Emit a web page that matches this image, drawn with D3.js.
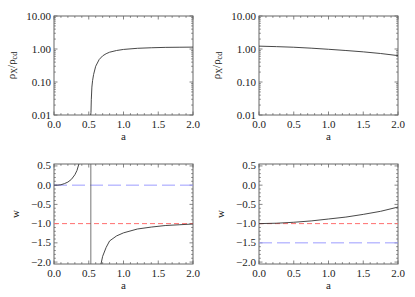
<!DOCTYPE html>
<html>
<head>
<meta charset="utf-8">
<script src="https://cdn.jsdelivr.net/npm/d3@7"></script>
<style>
  body { margin: 0; background: #fff; }
</style>
</head>
<body>
<div id="chart"></div>
<script>
// top left: rho_X / rho_cd vs a (diverges near a = 0.53)
var rhoA1 = [0.528, 0.532, 0.537, 0.545, 0.555, 0.57, 0.6, 0.65, 0.7, 0.75, 0.8, 0.9, 1.0, 1.2, 1.4, 1.6, 1.8, 2.0];
var rhoV1 = [0.005, 0.012, 0.03, 0.07, 0.11, 0.17, 0.3, 0.48, 0.62, 0.72, 0.8, 0.9, 0.97, 1.05, 1.09, 1.12, 1.13, 1.14];
// top right
var rhoA2 = [0, 0.25, 0.5, 0.75, 1.0, 1.25, 1.5, 1.75, 2.0];
var rhoV2 = [1.22, 1.18, 1.13, 1.06, 0.98, 0.9, 0.82, 0.73, 0.63];
// bottom left: w(a), two branches and the jump at the pole
var wA1left = [0, 0.05, 0.1, 0.15, 0.2, 0.25, 0.3, 0.33, 0.36];
var wV1left = [0, 0.0, 0.01, 0.04, 0.08, 0.15, 0.27, 0.38, 0.56];
var wA1right = [0.675, 0.7, 0.75, 0.8, 0.9, 1.0, 1.2, 1.4, 1.6, 1.8, 2.0];
var wV1right = [-2.06, -1.85, -1.62, -1.45, -1.32, -1.24, -1.14, -1.09, -1.05, -1.03, -1.01];
var pole1 = 0.53;
// bottom right
var wA2 = [0, 0.25, 0.5, 0.75, 1.0, 1.25, 1.5, 1.75, 2.0];
var wV2 = [-1.0, -0.99, -0.965, -0.93, -0.88, -0.83, -0.76, -0.68, -0.57];
// reference lines (red = -1, blue = other)
var refRed = [-1, -1];
var refBlue = [0, -1.5];

var xTicks = [0, 0.5, 1.0, 1.5, 2.0];
var xTickLabels = ['0.0', '0.5', '1.0', '1.5', '2.0'];
var logTicks = [0.01, 0.1, 1, 10];
var logTickLabels = ['0.01', '0.10', '1.00', '10.00'];
var wTicks = [-2, -1.5, -1, -0.5, 0, 0.5];
var wTickLabels = ['\u22122.0', '\u22121.5', '\u22121.0', '\u22120.5', '0.0', '0.5'];

var W = 415, H = 297;
var FONT = "'Liberation Serif'";
var svg = d3.select('#chart').append('svg')
    .attr('width', W).attr('height', H);

var panels = [
  {x0: 54, y0: 16, w: 139, h: 99, log: true,  ylab: 'rho', ylx: 15},
  {x0: 259, y0: 16, w: 139, h: 99, log: true, ylab: 'rho', ylx: 220},
  {x0: 54, y0: 164, w: 139, h: 100, log: false, ylab: 'w', ylx: 19},
  {x0: 259, y0: 164, w: 139, h: 100, log: false, ylab: 'w', ylx: 224}
];

var frameCol = '#666';
var lineCol = '#333';
var textCol = '#222';

function txt(sel) {
  return sel.style('font-family', FONT).attr('font-size', 11).attr('fill', textCol);
}

function drawPanel(p) {
  var g = svg.append('g').attr('transform', 'translate(' + p.x0 + ',' + p.y0 + ')');
  var x = d3.scaleLinear().domain([0, 2]).range([0, p.w]);
  var y;
  if (p.log) y = d3.scaleLog().domain([0.01, 10]).range([p.h, 0]).clamp(true);
  else y = d3.scaleLinear().domain([-2.05, 0.55]).range([p.h, 0]);
  p.x = x; p.y = y; p.g = g;

  var major = 3.5, minor = 1.8;
  var tk = g.append('g').attr('stroke', frameCol).attr('stroke-width', 0.8);
  // x ticks top & bottom
  d3.range(0, 2.0001, 0.1).forEach(function(v, i) {
    var len = (i % 5 === 0) ? major : minor;
    var px = x(v);
    tk.append('line').attr('x1', px).attr('x2', px).attr('y1', p.h).attr('y2', p.h - len);
    tk.append('line').attr('x1', px).attr('x2', px).attr('y1', 0).attr('y2', len);
  });
  // y ticks left & right
  var yt = [];
  if (p.log) {
    [0.01, 0.1, 1].forEach(function(d) {
      for (var k = 1; k < 10; k++) yt.push({v: d * k, m: k === 1});
    });
    yt.push({v: 10, m: true});
  } else {
    d3.range(-20, 6).forEach(function(k) {
      yt.push({v: k / 10, m: k % 5 === 0});
    });
  }
  yt.forEach(function(t) {
    var py = y(t.v);
    var len = t.m ? major : minor;
    tk.append('line').attr('y1', py).attr('y2', py).attr('x1', 0).attr('x2', len);
    tk.append('line').attr('y1', py).attr('y2', py).attr('x1', p.w).attr('x2', p.w - len);
  });

  g.append('rect').attr('width', p.w).attr('height', p.h)
    .attr('fill', 'none').attr('stroke', frameCol).attr('stroke-width', 1);

  // tick labels
  txt(g.selectAll('.xl').data(xTicks).enter().append('text'))
    .attr('x', function(d) { return x(d); })
    .attr('y', p.h + 13)
    .attr('text-anchor', 'middle')
    .text(function(d, i) { return xTickLabels[i]; });
  var ytv = p.log ? logTicks : wTicks;
  var ytl = p.log ? logTickLabels : wTickLabels;
  txt(g.selectAll('.yl').data(ytv).enter().append('text'))
    .attr('x', -3)
    .attr('y', function(d) { return y(d) + 3.5; })
    .attr('text-anchor', 'end')
    .text(function(d, i) { return ytl[i]; });

  txt(g.append('text')).attr('x', p.w / 2).attr('y', p.h + 25)
    .attr('text-anchor', 'middle').text('a');

  var lab = txt(svg.append('text'))
    .attr('transform', 'translate(' + p.ylx + ',' + (p.y0 + p.h / 2) + ') rotate(-90)')
    .attr('text-anchor', 'middle');
  if (p.ylab === 'rho') {
    lab.append('tspan').text('\u03c1');
    lab.append('tspan').attr('font-size', 8).attr('dy', 2).text('X');
    lab.append('tspan').attr('dy', -2).text('/\u03c1');
    lab.append('tspan').attr('font-size', 8).attr('dy', 2).text('cd');
  } else {
    lab.text('w');
  }

  var clip = 'clip' + p.x0 + '_' + p.y0;
  g.append('clipPath').attr('id', clip).append('rect').attr('width', p.w).attr('height', p.h);
  p.plot = g.append('g').attr('clip-path', 'url(#' + clip + ')');
}

panels.forEach(drawPanel);

var line = function(p) {
  return d3.line().x(function(d) { return p.x(d[0]); }).y(function(d) { return p.y(d[1]); });
};

function curve(p, xs, ys, col) {
  p.plot.append('path')
    .attr('d', line(p)(d3.zip(xs, ys)))
    .attr('fill', 'none').attr('stroke', col || lineCol).attr('stroke-width', 0.9);
}

function hline(p, v, col, dash) {
  p.plot.append('line')
    .attr('x1', p.x(0)).attr('x2', p.x(2))
    .attr('y1', p.y(v)).attr('y2', p.y(v))
    .attr('stroke', col).attr('stroke-width', 1).attr('stroke-dasharray', dash);
}

// reference lines first
hline(panels[2], refBlue[0], '#9c9cff', '13,5');
hline(panels[2], refRed[0], '#ff6f6f', '5,3');
hline(panels[3], refRed[1], '#ff6f6f', '5,3');
hline(panels[3], refBlue[1], '#9c9cff', '13,5');

curve(panels[0], rhoA1, rhoV1);
curve(panels[1], rhoA2, rhoV2);
curve(panels[2], wA1left, wV1left);
curve(panels[2], wA1right, wV1right);
curve(panels[2], [pole1, pole1], [0.6, -2.1], '#666');
curve(panels[3], wA2, wV2);
</script>
</body>
</html>
